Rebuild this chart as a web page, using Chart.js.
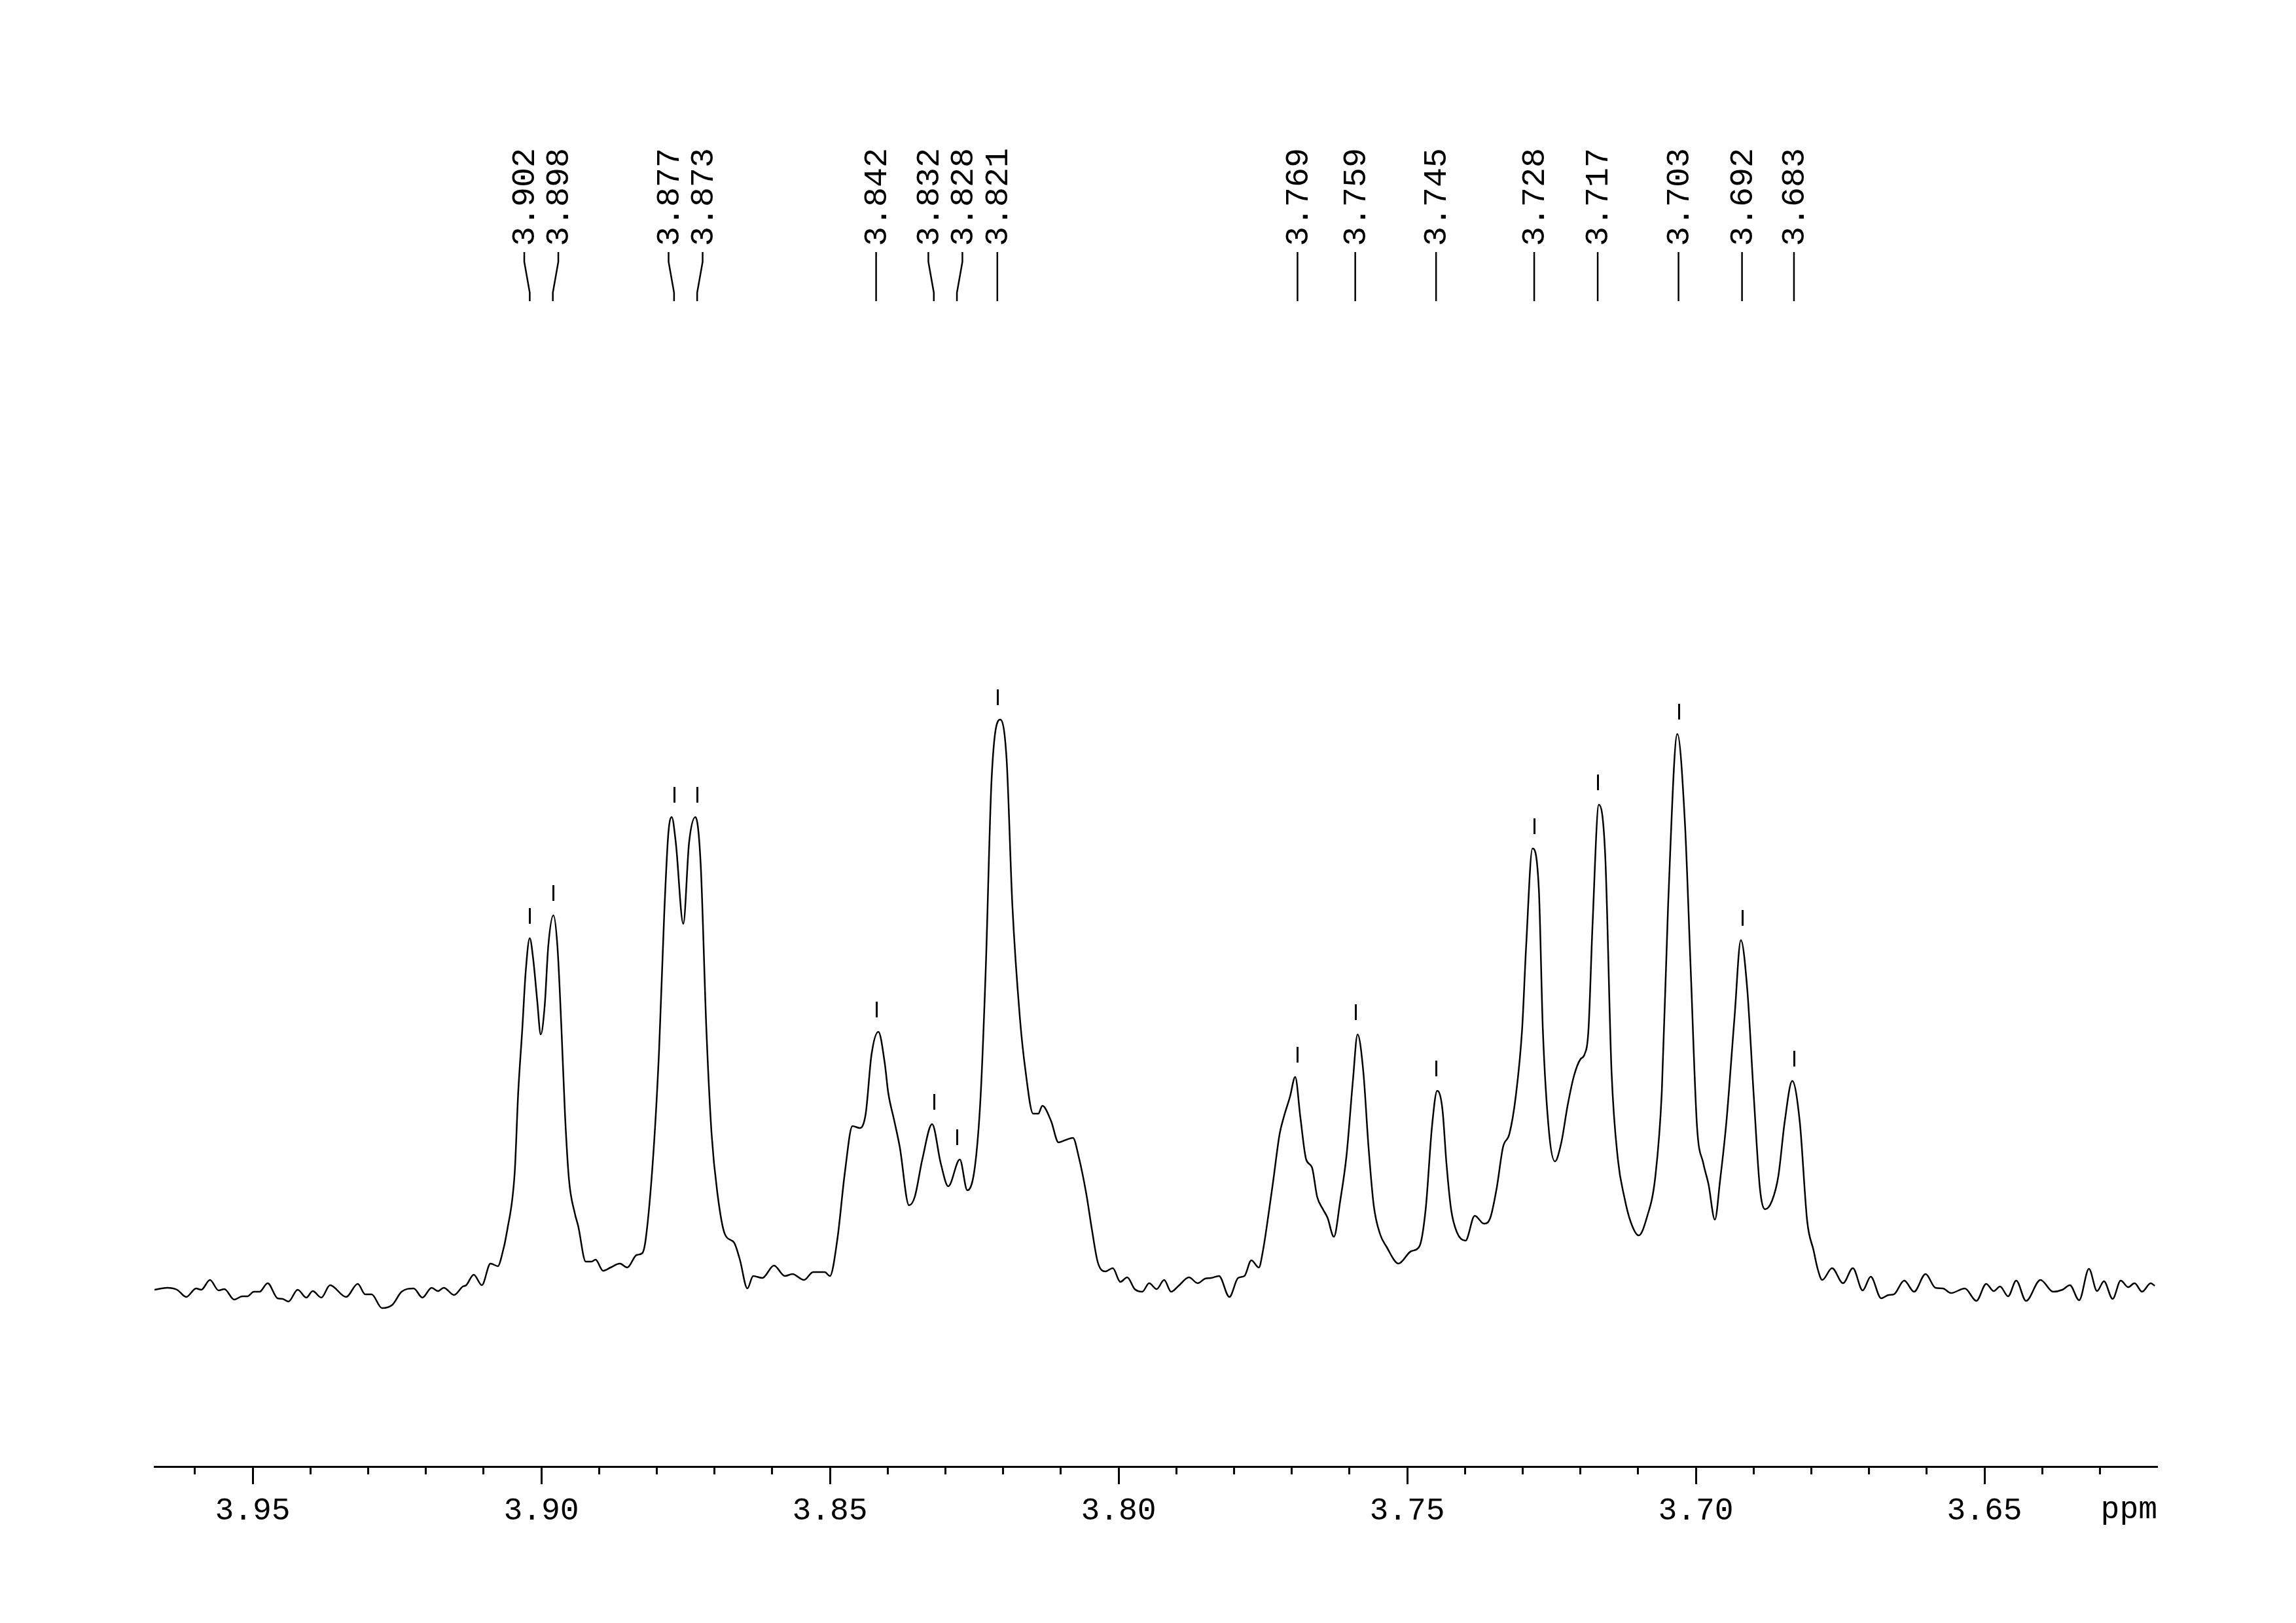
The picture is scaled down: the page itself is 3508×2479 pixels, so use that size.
<!DOCTYPE html>
<html>
<head>
<meta charset="utf-8">
<title>1H NMR 3.62 - 3.97 ppm</title>
<script src="https://cdn.jsdelivr.net/npm/chart.js@4.4.1/dist/chart.umd.min.js"></script>
<style>
  html, body { margin: 0; padding: 0; background: #fff; }
  #wrap { width: 3508px; height: 2479px; }
</style>
</head>
<body>
<div id="wrap"><canvas id="nmr" width="3508" height="2479"></canvas></div>
<script>
// 谱线 (ppm, 强度)
const ppm = [
  3.9670, 3.9648, 3.9631, 3.9615, 3.9598, 3.9589, 3.9574, 3.9559, 3.9549, 3.9532,
  3.9518, 3.9509, 3.9498, 3.9488, 3.9474, 3.9457, 3.9448, 3.9438, 3.9422, 3.9407,
  3.9396, 3.9381, 3.9366, 3.9338, 3.9318, 3.9305, 3.9294, 3.9276, 3.9258, 3.9242,
  3.9221, 3.9206, 3.9190, 3.9179, 3.9169, 3.9151, 3.9136, 3.9130, 3.9117, 3.9103,
  3.9088, 3.9075, 3.9069, 3.9059, 3.9046, 3.9040, 3.9033, 3.9027, 3.9020, 3.9014,
  3.9007, 3.9001, 3.8994, 3.8988, 3.8979, 3.8972, 3.8965, 3.8959, 3.8952, 3.8942,
  3.8936, 3.8923, 3.8913, 3.8906, 3.8893, 3.8880, 3.8864, 3.8851, 3.8835, 3.8825,
  3.8819, 3.8806, 3.8796, 3.8787, 3.8780, 3.8774, 3.8767, 3.8754, 3.8744, 3.8733,
  3.8724, 3.8714, 3.8705, 3.8695, 3.8682, 3.8666, 3.8656, 3.8643, 3.8633, 3.8617,
  3.8597, 3.8578, 3.8565, 3.8545, 3.8529, 3.8509, 3.8500, 3.8487, 3.8474, 3.8461,
  3.8448, 3.8438, 3.8428, 3.8416, 3.8405, 3.8399, 3.8389, 3.8379, 3.8363, 3.8353,
  3.8340, 3.8323, 3.8308, 3.8295, 3.8275, 3.8262, 3.8249, 3.8239, 3.8230, 3.8220,
  3.8205, 3.8194, 3.8184, 3.8171, 3.8161, 3.8148, 3.8139, 3.8132, 3.8117, 3.8104,
  3.8091, 3.8079, 3.8069, 3.8056, 3.8046, 3.8036, 3.8023, 3.8010, 3.7997, 3.7985,
  3.7972, 3.7959, 3.7947, 3.7934, 3.7921, 3.7909, 3.7896, 3.7878, 3.7863, 3.7850,
  3.7840, 3.7826, 3.7808, 3.7793, 3.7782, 3.7770, 3.7757, 3.7750, 3.7739, 3.7732,
  3.7721, 3.7714, 3.7703, 3.7694, 3.7685, 3.7675, 3.7665, 3.7656, 3.7646, 3.7638,
  3.7627, 3.7616, 3.7605, 3.7594, 3.7586, 3.7576, 3.7567, 3.7558, 3.7547, 3.7536,
  3.7515, 3.7493, 3.7479, 3.7468, 3.7457, 3.7448, 3.7439, 3.7432, 3.7424, 3.7414,
  3.7399, 3.7383, 3.7367, 3.7356, 3.7345, 3.7334, 3.7323, 3.7312, 3.7301, 3.7294,
  3.7283, 3.7272, 3.7265, 3.7254, 3.7244, 3.7233, 3.7222, 3.7211, 3.7200, 3.7193,
  3.7186, 3.7179, 3.7168, 3.7157, 3.7146, 3.7135, 3.7124, 3.7113, 3.7099, 3.7085,
  3.7070, 3.7059, 3.7048, 3.7032, 3.7019, 3.7009, 3.6998, 3.6987, 3.6978, 3.6967,
  3.6958, 3.6947, 3.6933, 3.6922, 3.6911, 3.6900, 3.6889, 3.6880, 3.6868, 3.6857,
  3.6846, 3.6833, 3.6820, 3.6807, 3.6796, 3.6789, 3.6781, 3.6764, 3.6745, 3.6728,
  3.6711, 3.6697, 3.6679, 3.6666, 3.6657, 3.6639, 3.6622, 3.6602, 3.6585, 3.6572,
  3.6558, 3.6534, 3.6514, 3.6497, 3.6484, 3.6473, 3.6459, 3.6445, 3.6428, 3.6403,
  3.6381, 3.6365, 3.6352, 3.6336, 3.6319, 3.6305, 3.6293, 3.6278, 3.6264, 3.6251,
  3.6240, 3.6227, 3.6212, 3.6205
];
const intensity = [
  1, 4, 1, -10, 3, 1, 16, 0, 2, -14,
  -9, -9, -2, -2, 11, -12, -13, -17, 1, -11,
  -1, -11, 8, -10, 10, -6, -6, -27, -22, -2,
  3, -11, 4, -1, 4, -7, 6, 8, 24, 8,
  41, 37, 51, 92, 181, 302, 398, 487, 538, 506,
  442, 391, 436, 525, 573, 525, 398, 270, 169, 118,
  98, 44, 44, 47, 30, 35, 41, 35, 54, 57,
  79, 207, 366, 576, 697, 723, 684, 560, 684, 723,
  653, 398, 239, 149, 86, 73, 47, 3, 22, 19,
  38, 22, 25, 16, 28, 28, 22, 79, 181, 251,
  248, 270, 360, 395, 347, 302, 261, 219, 130, 143,
  200, 254, 194, 159, 200, 153, 188, 296, 493, 780,
  872, 812, 589, 417, 334, 270, 270, 282, 259, 226,
  230, 233, 204, 148, 92, 43, 29, 34, 13, 20,
  2, -2, 11, 2, 16, -2, 7, 20, 11, 18,
  19, 22, -10, 19, 22, 46, 35, 60, 124, 168,
  239, 264, 296, 326, 264, 200, 188, 143, 124, 111,
  82, 137, 207, 321, 391, 334, 219, 130, 86, 67,
  41, 60, 67, 124, 251, 305, 277, 194, 124, 89,
  76, 114, 102, 111, 156, 219, 239, 296, 398, 525,
  675, 614, 398, 239, 197, 226, 283, 328, 353, 360,
  398, 557, 742, 665, 334, 200, 143, 105, 84, 111,
  175, 302, 589, 850, 716, 493, 251, 194, 162, 108,
  168, 258, 417, 535, 461, 302, 156, 124, 137, 175,
  258, 320, 258, 105, 61, 33, 16, 34, 11, 34,
  0, 21, -12, -7, -6, 15, -2, 25, 4, 3,
  -4, 3, -16, 10, -1, 6, -9, 15, -16, 16,
  -2, 1, 8, -15, 33, -1, 14, -13, 15, 5,
  11, -2, 11, 7
];

// 峰位标注
const peakPpm = [
  3.902, 3.898, 3.877, 3.873, 3.842, 3.832, 3.828, 3.821,
  3.769, 3.759, 3.745, 3.728, 3.717, 3.703, 3.692, 3.683
];

// 坐标轴范围
const ppmMax = 3.96701;
const ppmMin = 3.62007;
const majorStep = 0.05;
const minorStep = 0.01;
const yMin = -269;
const yMax = 1871;

const FONT = '"Liberation Mono", "Courier New", monospace';

// spread label positions so neighbours keep a minimum gap (pixels)
function spreadLabels(xs, gap) {
  let groups = xs.map(x => ({ n: 1, sum: x, start: x }));
  let merged = true;
  while (merged) {
    merged = false;
    for (let i = 0; i < groups.length - 1; i++) {
      const a = groups[i], b = groups[i + 1];
      const aEnd = a.start + (a.n - 1) * gap;
      if (b.start - aEnd < gap) {
        const n = a.n + b.n, sum = a.sum + b.sum;
        groups.splice(i, 2, { n: n, sum: sum, start: sum / n - (n - 1) * gap / 2 });
        merged = true;
        break;
      }
    }
  }
  const out = [];
  groups.forEach(g => { for (let k = 0; k < g.n; k++) out.push(g.start + k * gap); });
  return out;
}

// local maximum of the trace near a picked peak
function peakHeight(p) {
  let best = -Infinity;
  ppm.forEach((v, i) => {
    if (Math.abs(v - p) <= 0.0012 && intensity[i] > best) best = intensity[i];
  });
  return best;
}

const peakPlugin = {
  id: 'peakPicks',
  afterDatasetsDraw(chart) {
    const ctx = chart.ctx;
    const xs = chart.scales.x, ys = chart.scales.y;
    ctx.save();
    ctx.strokeStyle = '#000';
    ctx.fillStyle = '#000';

    // 峰顶短竖线
    ctx.lineWidth = 3;
    peakPpm.forEach(p => {
      const h = peakHeight(p);
      const x = Math.round(xs.getPixelForValue(p)) + 0.5;
      ctx.beginPath();
      ctx.moveTo(x, ys.getPixelForValue(h + 46));
      ctx.lineTo(x, ys.getPixelForValue(h + 22));
      ctx.stroke();
    });

    // 顶部标签 + 引线
    const px = peakPpm.map(p => xs.getPixelForValue(p));
    const tops = spreadLabels(px, 52);
    ctx.lineWidth = 2.5;
    px.forEach((x, i) => {
      const t = tops[i];
      ctx.beginPath();
      ctx.moveTo(t, 385);
      ctx.lineTo(t, 400);
      ctx.lineTo(x, 447);
      ctx.lineTo(x, 460);
      ctx.stroke();

      ctx.save();
      ctx.translate(t + 2, 376);
      ctx.rotate(-Math.PI / 2);
      ctx.font = '50px ' + FONT;
      ctx.textAlign = 'left';
      ctx.textBaseline = 'middle';
      ctx.fillText(peakPpm[i].toFixed(3), 0, 0);
      ctx.restore();
    });
    ctx.restore();
  },
  afterDraw(chart) {
    const ctx = chart.ctx;
    const xs = chart.scales.x;
    ctx.save();
    ctx.fillStyle = '#000';
    ctx.font = '48px ' + FONT;
    ctx.textAlign = 'right';
    ctx.textBaseline = 'alphabetic';
    ctx.fillText('ppm', chart.chartArea.right, xs.top + 79);
    ctx.restore();
  }
};

const ctx = document.getElementById('nmr').getContext('2d');
const chart = new Chart(ctx, {
  type: 'line',
  data: {
    datasets: [{
      data: ppm.map((p, i) => ({ x: p, y: intensity[i] })),
      borderColor: '#000',
      borderWidth: 2.5,
      pointRadius: 0,
      fill: false,
      cubicInterpolationMode: 'monotone'
    }]
  },
  options: {
    responsive: false,
    animation: false,
    devicePixelRatio: 1,
    layout: { padding: { left: 236, right: 212, top: 100, bottom: 0 } },
    plugins: {
      legend: { display: false },
      tooltip: { enabled: false },
      title: { display: false }
    },
    scales: {
      x: {
        type: 'linear',
        position: 'bottom',
        reverse: true,
        min: ppmMin,
        max: ppmMax,
        afterFit: scale => { scale.height = 239; },
        grid: {
          drawOnChartArea: false,
          drawTicks: true,
          tickLength: 27,
          tickWidth: 3,
          tickColor: '#000'
        },
        border: { display: true, color: '#000', width: 3 },
        ticks: {
          stepSize: majorStep,
          includeBounds: false,
          maxRotation: 0,
          autoSkip: false,
          padding: 12,
          color: '#000',
          font: { family: FONT, size: 48 },
          callback: v => v.toFixed(2)
        }
      },
      xMinor: {
        type: 'linear',
        axis: 'x',
        position: { y: yMin },
        reverse: true,
        min: ppmMin,
        max: ppmMax,
        grid: {
          drawOnChartArea: false,
          drawTicks: true,
          tickLength: 12,
          tickWidth: 3,
          tickColor: '#000'
        },
        border: { display: false },
        ticks: { stepSize: minorStep, includeBounds: false, display: false, autoSkip: false }
      },
      y: {
        type: 'linear',
        display: false,
        min: yMin,
        max: yMax
      }
    }
  },
  plugins: [peakPlugin]
});
</script>
</body>
</html>
